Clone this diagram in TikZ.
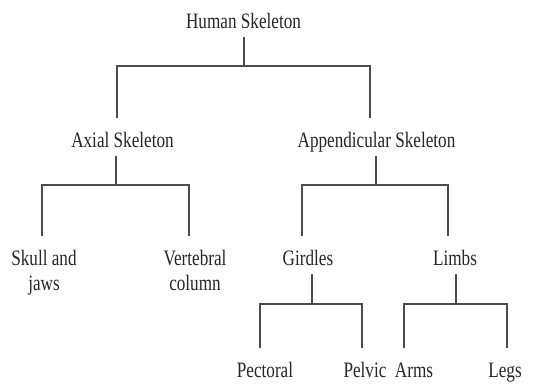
\documentclass[tikz,border=0pt]{standalone}
\usepackage{fontspec}
\setmainfont{Liberation Serif}[FakeStretch=0.78]
\usetikzlibrary{positioning}

\begin{document}
\begin{tikzpicture}[
      x=1pt, y=-1pt,
      part/.style={anchor=base, inner sep=0pt, text height=16pt, text depth=0pt, align=center,
        text=black!85, font=\fontsize{22}{25}\selectfont},
      twoline/.style={part, text height=41pt},
      stem/.style={line width=1.3pt, draw=black!70, shorten <=9pt},
      drop/.style={line width=1.3pt, draw=black!70, shorten <=13pt, shorten >=13pt}
    ]
    \useasboundingbox (0,0) rectangle (534,383);

    % labels
    \node[part] (human) at (243.5,28) {Human Skeleton};
    \node[part] (axial) at (122.5,147) {Axial Skeleton};
    \node[part] (append) at (376.5,147) {Appendicular Skeleton};
    \node[twoline] (skull) at (44,290) {Skull and\\jaws};
    \node[twoline] (vert) at (195,290) {Vertebral\\column};
    \node[part] (girdles) at (308,265) {Girdles};
    \node[part] (limbs) at (455,265) {Limbs};
    \node[part] (pectoral) at (265,377) {Pectoral};
    \node[part] (pelvic) at (365,377) {Pelvic};
    \node[part] (arms) at (414,377) {Arms};
    \node[part] (legs) at (505,377) {Legs};

    % junctions
    \coordinate (j1) at (244,66);
    \coordinate (j2) at (116,185);
    \coordinate (j3) at (376,185);
    \coordinate (j4) at (312,304);
    \coordinate (j5) at (456,304);

    \draw[stem] (j1 |- human.south) -- (j1);
    \draw[drop] ([xshift=-5.5pt]axial.north) |- (j1) -| ([xshift=-6.5pt]append.north);

    \draw[stem] (j2 |- axial.south) -- (j2);
    \draw[drop] ([xshift=-2pt]skull.north) |- (j2) -| ([xshift=-6pt]vert.north);

    \draw[stem] (j3 |- append.south) -- (j3);
    \draw[drop] ([xshift=-6pt]girdles.north) |- (j3) -| ([xshift=-7pt]limbs.north);

    \draw[stem] (j4 |- girdles.south) -- (j4);
    \draw[drop] ([xshift=-5pt]pectoral.north) |- (j4) -| ([xshift=-3pt]pelvic.north);

    \draw[stem] (j5 |- limbs.south) -- (j5);
    \draw[drop] ([xshift=-10pt]arms.north) |- (j5) -| ([xshift=2pt]legs.north);
  \end{tikzpicture}
\end{document}
